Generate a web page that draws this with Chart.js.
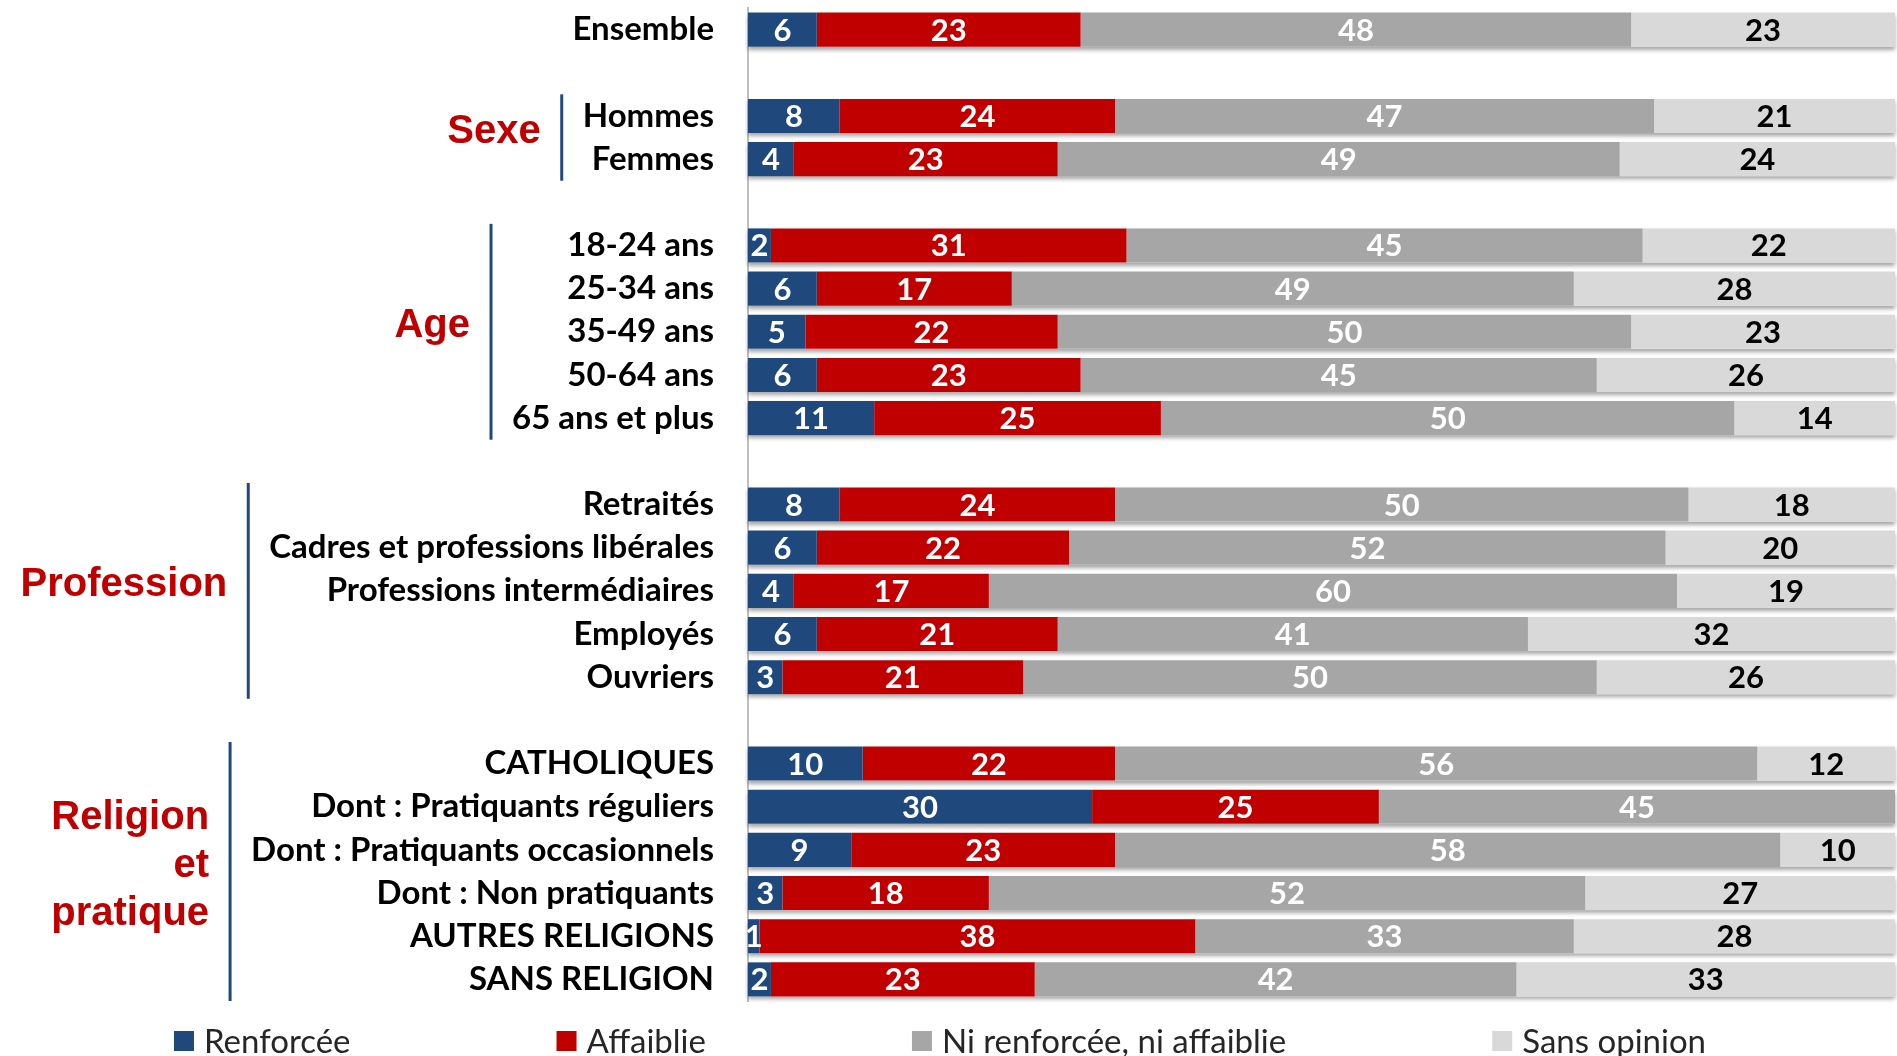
<!DOCTYPE html>
<html>
<head>
<meta charset="utf-8">
<script src="https://cdn.jsdelivr.net/npm/chart.js"></script>
<style>
  html, body { margin: 0; padding: 0; background: #fff; }
  #wrap { width: 1897px; height: 1056px; position: relative; }
</style>
</head>
<body>
<div id="wrap"><canvas id="chart"></canvas></div>
<script>
// rows of the chart ('' = empty spacer row between groups)
const categories = [
  'Ensemble', '',
  'Hommes', 'Femmes', '',
  '18-24 ans', '25-34 ans', '35-49 ans', '50-64 ans', '65 ans et plus', '',
  'Retraités', 'Cadres et professions libérales', 'Professions intermédiaires', 'Employés', 'Ouvriers', '',
  'CATHOLIQUES', 'Dont : Pratiquants réguliers', 'Dont : Pratiquants occasionnels',
  'Dont : Non pratiquants', 'AUTRES RELIGIONS', 'SANS RELIGION'
];
const renforcee   = [6, null, 8, 4, null, 2, 6, 5, 6, 11, null, 8, 6, 4, 6, 3, null, 10, 30, 9, 3, 1, 2];
const affaiblie   = [23, null, 24, 23, null, 31, 17, 22, 23, 25, null, 24, 22, 17, 21, 21, null, 22, 25, 23, 18, 38, 23];
const niNi        = [48, null, 47, 49, null, 45, 49, 50, 45, 50, null, 50, 52, 60, 41, 50, null, 56, 45, 58, 52, 33, 42];
const sansOpinion = [23, null, 21, 24, null, 22, 28, 23, 26, 14, null, 18, 20, 19, 32, 26, null, 12, 0, 10, 27, 28, 33];
const seriesNames = ['Renforcée', 'Affaiblie', 'Ni renforcée, ni affaiblie', 'Sans opinion'];

// groups on the left: title lines, first row, last row
const groupTitles = [['Sexe'], ['Age'], ['Profession'], ['Religion', 'et', 'pratique']];
const groupRanges = [[2, 3], [5, 9], [11, 15], [17, 22]];

const colors = ['#1F497D', '#C00000', '#A6A6A6', '#D9D9D9'];
const labelColors = ['#fff', '#fff', '#fff', '#000'];
const tickFont = 'bold 33px Lato';
const valueFont = 'bold 31px Lato';

// drop shadow under each full bar
const shadowPlugin = {
  id: 'rowShadow',
  beforeDatasetsDraw(chart) {
    const ctx = chart.ctx;
    const x = chart.scales.x;
    const meta = chart.getDatasetMeta(0);
    ctx.save();
    ctx.shadowColor = 'rgba(0,0,0,0.35)';
    ctx.shadowBlur = 4;
    ctx.shadowOffsetY = 3;
    ctx.fillStyle = '#fff';
    categories.forEach((c, i) => {
      if (renforcee[i] === null) return;
      const total = renforcee[i] + affaiblie[i] + niNi[i] + sansOpinion[i];
      const bar = meta.data[i];
      const x0 = x.getPixelForValue(0), x1 = x.getPixelForValue(total);
      ctx.fillRect(x0, bar.y - bar.height / 2, x1 - x0, bar.height);
    });
    ctx.restore();
  }
};

// numbers centred in the segments
const valuePlugin = {
  id: 'values',
  afterDatasetsDraw(chart) {
    const ctx = chart.ctx;
    ctx.save();
    ctx.font = valueFont;
    ctx.textAlign = 'center';
    ctx.textBaseline = 'middle';
    chart.data.datasets.forEach((ds, d) => {
      const meta = chart.getDatasetMeta(d);
      ds.data.forEach((v, i) => {
        if (!v) return;
        const el = meta.data[i];
        ctx.fillStyle = labelColors[d];
        ctx.fillText(String(v), (el.x + el.base) / 2, el.y + 1);
      });
    });
    ctx.restore();
  }
};

// group titles, blue brackets and bottom legend
const groupPlugin = {
  id: 'groups',
  afterDraw(chart) {
    const ctx = chart.ctx;
    const y = chart.scales.y;
    const tickRight = y.right - y.options.ticks.padding;
    const half = (y.getPixelForValue(1) - y.getPixelForValue(0)) / 2;
    ctx.save();
    groupTitles.forEach((lines, g) => {
      const [a, b] = groupRanges[g];
      ctx.font = tickFont;
      let maxW = 0;
      for (let i = a; i <= b; i++) maxW = Math.max(maxW, ctx.measureText(categories[i]).width);
      const lx = tickRight - maxW - 21;
      const top = y.getPixelForValue(a) - half;
      const bottom = y.getPixelForValue(b) + half;
      ctx.strokeStyle = '#1F497D';
      ctx.lineWidth = 3;
      ctx.beginPath();
      ctx.moveTo(lx, top);
      ctx.lineTo(lx, bottom);
      ctx.stroke();

      ctx.font = 'bold 40px "Liberation Sans", Arial, sans-serif';
      ctx.fillStyle = '#C00000';
      ctx.textAlign = 'right';
      ctx.textBaseline = 'middle';
      const mid = (top + bottom) / 2 - 6;
      const lh = 48;
      lines.forEach((t, k) => {
        ctx.fillText(t, lx - 21, mid + (k - (lines.length - 1) / 2) * lh);
      });
    });

    // legend
    ctx.font = '33px Lato';
    const box = 20, gapText = 10, gapItem = 206;
    const widths = seriesNames.map(n => box + gapText + ctx.measureText(n).width);
    const total = widths.reduce((s, w) => s + w, 0) + gapItem * (seriesNames.length - 1);
    let lx = 940 - total / 2;
    const ly = 1041;
    ctx.textAlign = 'left';
    ctx.textBaseline = 'middle';
    seriesNames.forEach((n, i) => {
      ctx.fillStyle = colors[i];
      ctx.fillRect(lx, ly - box / 2, box, box);
      ctx.fillStyle = '#262626';
      ctx.fillText(n, lx + box + gapText, ly + 1);
      lx += widths[i] + gapItem;
    });
    ctx.restore();
  }
};

const seriesData = [renforcee, affaiblie, niNi, sansOpinion];

new Chart(document.getElementById('chart'), {
  type: 'bar',
  data: {
    labels: categories,
    datasets: seriesNames.map((name, i) => ({
      label: name,
      data: seriesData[i],
      backgroundColor: colors[i],
      borderWidth: 0,
      categoryPercentage: 1,
      barPercentage: 0.79
    }))
  },
  options: {
    indexAxis: 'y',
    responsive: true,
    maintainAspectRatio: false,
    animation: false,
    layout: { padding: { top: 8, right: 2, bottom: 55, left: 0 } },
    plugins: {
      legend: { display: false },
      title: { display: false },
      tooltip: { enabled: false }
    },
    scales: {
      x: { stacked: true, min: 0, max: 100, display: false },
      y: {
        stacked: true,
        grid: { display: false, drawTicks: false },
        border: { display: true, color: '#BFBFBF', width: 2 },
        ticks: {
          padding: 34,
          color: '#000',
          font: { family: 'Lato', size: 33, weight: 'bold' },
          autoSkip: false
        },
        afterFit(scale) {
          scale.width = 748;
          scale.paddingTop = 0;
          scale.paddingBottom = 0;
        }
      }
    }
  },
  plugins: [shadowPlugin, valuePlugin, groupPlugin]
});
</script>
</body>
</html>
